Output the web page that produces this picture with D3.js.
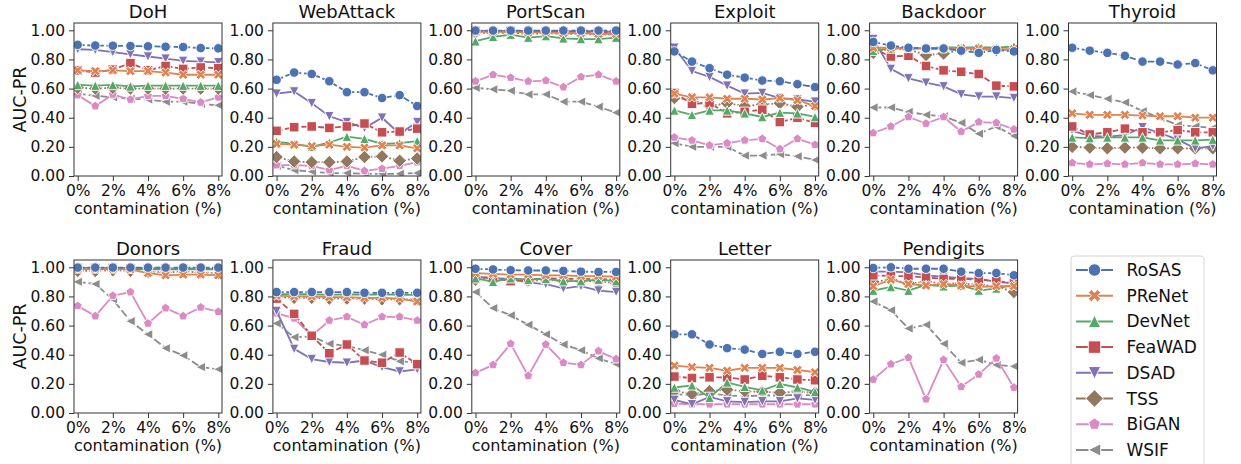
<!DOCTYPE html>
<html>
<head>
<meta charset="utf-8">
<script src="https://cdn.jsdelivr.net/npm/d3@7"></script>
<style>
  body { margin: 0; background: #fff; }
  svg { display: block; font-family: "DejaVu Sans", sans-serif; }
</style>
</head>
<body>
<svg id="chart" width="1241" height="464"></svg>
<script>
// Methods, styling order and the contamination levels on the x axis
const methods = ["RoSAS", "PReNet", "DevNet", "FeaWAD", "DSAD", "TSS", "BiGAN", "WSIF"];
const colors = ["#4C72B0", "#DD8452", "#55A868", "#C44E52", "#8172B3", "#937860", "#DA8BC3", "#8C8C8C"];
const shapes = ["circle", "x", "triUp", "square", "triDown", "diamond", "pentagon", "triLeft"];
const dashes = ["7,2.6", null, null, "6,2.4", null, "1.8,2", null, "8,3"];
const contamination = [0, 1, 2, 3, 4, 5, 6, 7, 8];
const xTicks = [0, 2, 4, 6, 8];
const yTicks = [0, 0.2, 0.4, 0.6, 0.8, 1.0];
const datasets = ["DoH", "WebAttack", "PortScan", "Exploit", "Backdoor", "Thyroid",
                  "Donors", "Fraud", "Cover", "Letter", "Pendigits"];

// AUC-PR per method (rows in `methods` order) over the contamination levels
const doh = [
  [0.90, 0.895, 0.894, 0.892, 0.89, 0.887, 0.885, 0.878, 0.876],
  [0.725, 0.72, 0.725, 0.72, 0.72, 0.71, 0.695, 0.695, 0.695],
  [0.625, 0.62, 0.625, 0.615, 0.62, 0.62, 0.62, 0.62, 0.62],
  [0.725, 0.71, 0.73, 0.775, 0.725, 0.755, 0.735, 0.745, 0.74],
  [0.87, 0.865, 0.85, 0.835, 0.82, 0.805, 0.79, 0.785, 0.78],
  [0.605, 0.60, 0.605, 0.60, 0.60, 0.60, 0.60, 0.60, 0.60],
  [0.555, 0.48, 0.56, 0.525, 0.55, 0.55, 0.53, 0.505, 0.54],
  [0.565, 0.55, 0.54, 0.53, 0.525, 0.51, 0.51, 0.495, 0.485]
];
const webAttack = [
  [0.66, 0.71, 0.70, 0.65, 0.575, 0.575, 0.535, 0.555, 0.48],
  [0.22, 0.215, 0.205, 0.215, 0.20, 0.195, 0.21, 0.21, 0.19],
  [0.235, 0.22, 0.20, 0.23, 0.27, 0.255, 0.22, 0.225, 0.24],
  [0.31, 0.335, 0.34, 0.33, 0.34, 0.36, 0.30, 0.305, 0.325],
  [0.565, 0.58, 0.50, 0.41, 0.37, 0.33, 0.40, 0.29, 0.37],
  [0.13, 0.10, 0.095, 0.095, 0.10, 0.13, 0.135, 0.105, 0.12],
  [0.075, 0.075, 0.07, 0.04, 0.07, 0.035, 0.05, 0.07, 0.095],
  [0.07, 0.04, 0.03, 0.02, 0.02, 0.015, 0.015, 0.015, 0.02]
];
const portScan = [
  [0.998, 0.998, 0.998, 0.998, 0.998, 0.998, 0.998, 0.998, 0.998],
  [0.99, 0.99, 0.99, 0.985, 0.985, 0.98, 0.98, 0.975, 0.975],
  [0.925, 0.955, 0.97, 0.95, 0.96, 0.945, 0.94, 0.94, 0.95],
  [0.995, 0.99, 0.995, 0.99, 0.99, 0.99, 0.99, 0.985, 0.99],
  [0.995, 0.995, 0.995, 0.995, 0.995, 0.99, 0.995, 0.99, 0.99],
  [0.985, 0.98, 0.985, 0.975, 0.98, 0.975, 0.975, 0.97, 0.97],
  [0.65, 0.695, 0.675, 0.65, 0.655, 0.61, 0.68, 0.695, 0.65],
  [0.605, 0.595, 0.585, 0.56, 0.56, 0.51, 0.51, 0.475, 0.435]
];
const exploit = [
  [0.855, 0.785, 0.74, 0.695, 0.675, 0.655, 0.65, 0.63, 0.61],
  [0.565, 0.54, 0.54, 0.53, 0.53, 0.525, 0.535, 0.52, 0.48],
  [0.45, 0.42, 0.45, 0.45, 0.43, 0.405, 0.435, 0.43, 0.405],
  [0.57, 0.495, 0.50, 0.43, 0.44, 0.455, 0.37, 0.40, 0.365],
  [0.88, 0.72, 0.68, 0.62, 0.565, 0.57, 0.535, 0.525, 0.51],
  [0.535, 0.525, 0.48, 0.50, 0.48, 0.49, 0.50, 0.475, 0.49],
  [0.265, 0.245, 0.21, 0.225, 0.245, 0.255, 0.185, 0.255, 0.215],
  [0.225, 0.20, 0.20, 0.20, 0.14, 0.14, 0.15, 0.135, 0.11]
];
const backdoor = [
  [0.92, 0.895, 0.88, 0.875, 0.875, 0.86, 0.845, 0.865, 0.855],
  [0.88, 0.88, 0.875, 0.875, 0.875, 0.875, 0.875, 0.87, 0.87],
  [0.86, 0.875, 0.88, 0.875, 0.885, 0.88, 0.885, 0.88, 0.89],
  [0.875, 0.82, 0.825, 0.755, 0.725, 0.715, 0.70, 0.62, 0.615],
  [0.94, 0.735, 0.67, 0.64, 0.615, 0.56, 0.545, 0.545, 0.535],
  [0.845, 0.875, 0.87, 0.83, 0.84, 0.865, 0.865, 0.865, 0.865],
  [0.295, 0.34, 0.405, 0.36, 0.405, 0.305, 0.37, 0.365, 0.32],
  [0.47, 0.47, 0.44, 0.42, 0.41, 0.365, 0.29, 0.34, 0.275]
];
const thyroid = [
  [0.88, 0.86, 0.845, 0.825, 0.785, 0.785, 0.765, 0.775, 0.725],
  [0.43, 0.42, 0.42, 0.42, 0.415, 0.41, 0.41, 0.40, 0.40],
  [0.265, 0.26, 0.265, 0.265, 0.265, 0.245, 0.245, 0.245, 0.25],
  [0.34, 0.285, 0.30, 0.325, 0.30, 0.30, 0.315, 0.30, 0.30],
  [0.31, 0.275, 0.27, 0.28, 0.335, 0.295, 0.25, 0.19, 0.205],
  [0.20, 0.195, 0.19, 0.195, 0.195, 0.19, 0.19, 0.19, 0.19],
  [0.09, 0.08, 0.085, 0.08, 0.09, 0.08, 0.08, 0.085, 0.08],
  [0.58, 0.555, 0.53, 0.505, 0.445, 0.40, 0.35, 0.34, 0.33]
];
const donors = [
  [0.998, 0.998, 0.998, 0.998, 0.998, 0.998, 0.998, 0.998, 0.998],
  [0.99, 0.99, 0.99, 0.985, 0.96, 0.945, 0.95, 0.95, 0.945],
  [0.995, 0.995, 0.995, 0.995, 0.99, 0.99, 0.99, 0.99, 0.99],
  [0.995, 0.995, 0.995, 0.99, 0.99, 0.99, 0.99, 0.99, 0.99],
  [0.99, 0.99, 0.99, 0.99, 0.985, 0.985, 0.985, 0.985, 0.985],
  [0.975, 0.975, 0.98, 0.975, 0.97, 0.965, 0.97, 0.965, 0.96],
  [0.735, 0.665, 0.805, 0.83, 0.615, 0.72, 0.665, 0.725, 0.695],
  [0.90, 0.885, 0.78, 0.63, 0.54, 0.445, 0.395, 0.315, 0.30]
];
const fraud = [
  [0.83, 0.83, 0.83, 0.83, 0.83, 0.825, 0.825, 0.825, 0.825],
  [0.805, 0.80, 0.80, 0.795, 0.795, 0.79, 0.79, 0.785, 0.765],
  [0.815, 0.815, 0.815, 0.81, 0.815, 0.81, 0.815, 0.81, 0.81],
  [0.785, 0.68, 0.53, 0.41, 0.47, 0.36, 0.345, 0.415, 0.335],
  [0.70, 0.44, 0.37, 0.35, 0.345, 0.36, 0.315, 0.285, 0.30],
  [0.795, 0.79, 0.79, 0.785, 0.785, 0.785, 0.78, 0.78, 0.78],
  [0.685, 0.65, 0.53, 0.635, 0.66, 0.605, 0.66, 0.66, 0.635],
  [0.615, 0.52, 0.525, 0.475, 0.46, 0.43, 0.40, 0.355, 0.345]
];
const cover = [
  [0.99, 0.985, 0.98, 0.978, 0.978, 0.975, 0.97, 0.968, 0.968],
  [0.96, 0.955, 0.95, 0.95, 0.945, 0.945, 0.94, 0.94, 0.935],
  [0.925, 0.90, 0.925, 0.915, 0.92, 0.905, 0.905, 0.915, 0.905],
  [0.935, 0.925, 0.905, 0.915, 0.925, 0.92, 0.92, 0.92, 0.915],
  [0.935, 0.925, 0.92, 0.895, 0.885, 0.855, 0.87, 0.84, 0.83],
  [0.915, 0.925, 0.915, 0.905, 0.915, 0.905, 0.905, 0.905, 0.89],
  [0.275, 0.33, 0.475, 0.255, 0.47, 0.345, 0.33, 0.425, 0.37],
  [0.83, 0.72, 0.67, 0.605, 0.54, 0.47, 0.43, 0.375, 0.335]
];
const letter = [
  [0.54, 0.54, 0.47, 0.445, 0.435, 0.405, 0.42, 0.405, 0.42],
  [0.325, 0.315, 0.31, 0.29, 0.31, 0.31, 0.31, 0.295, 0.28],
  [0.175, 0.19, 0.105, 0.21, 0.18, 0.155, 0.20, 0.175, 0.145],
  [0.25, 0.24, 0.245, 0.245, 0.23, 0.255, 0.245, 0.23, 0.225],
  [0.09, 0.06, 0.11, 0.08, 0.075, 0.08, 0.08, 0.10, 0.09],
  [0.15, 0.13, 0.15, 0.16, 0.15, 0.145, 0.14, 0.145, 0.14],
  [0.065, 0.06, 0.06, 0.06, 0.06, 0.06, 0.06, 0.06, 0.06],
  [0.13, 0.12, 0.135, 0.12, 0.115, 0.12, 0.12, 0.125, 0.12]
];
const pendigits = [
  [0.995, 1.0, 0.99, 0.99, 0.99, 0.97, 0.96, 0.96, 0.945],
  [0.87, 0.915, 0.885, 0.875, 0.885, 0.875, 0.865, 0.87, 0.87],
  [0.84, 0.865, 0.84, 0.88, 0.87, 0.875, 0.84, 0.855, 0.88],
  [0.945, 0.94, 0.94, 0.93, 0.92, 0.92, 0.915, 0.905, 0.89],
  [0.97, 0.97, 0.965, 0.945, 0.935, 0.925, 0.92, 0.90, 0.89],
  [0.90, 0.915, 0.89, 0.90, 0.89, 0.89, 0.88, 0.87, 0.83],
  [0.23, 0.335, 0.38, 0.095, 0.365, 0.18, 0.265, 0.375, 0.175],
  [0.765, 0.705, 0.58, 0.605, 0.475, 0.345, 0.365, 0.33, 0.32]
];
const panelValues = [doh, webAttack, portScan, exploit, backdoor, thyroid,
                     donors, fraud, cover, letter, pendigits];

// Layout
const svg = d3.select("#chart");
const W = 148, H = 153;
const colLeft = i => 74 + i * 198.9;
const rowTop = [23, 260];
const lineW = 1.8, markerSize = 9.5, ink = "#333";

const x = d3.scaleLinear().domain([-0.21, 8.21]).range([0, W]);
const y = d3.scaleLinear().domain([0, 1.05]).range([H, 0]);

// Matplotlib-like marker outlines, size = nominal marker size in px
function markerPath(shape, s) {
  const h = s / 2;
  const poly = pts => "M" + pts.map(p => p[0].toFixed(2) + "," + p[1].toFixed(2)).join("L") + "Z";
  switch (shape) {
    case "circle":
      return d3.symbol(d3.symbolCircle, Math.PI * h * h)();
    case "square":
      return poly([[-h, -h], [h, -h], [h, h], [-h, h]]);
    case "diamond": {
      const d = h * Math.SQRT2;
      return poly([[0, -d], [d, 0], [0, d], [-d, 0]]);
    }
    case "triUp":
      return poly([[0, -h], [h, h], [-h, h]]);
    case "triDown":
      return poly([[0, h], [h, -h], [-h, -h]]);
    case "triLeft":
      return poly([[-h, 0], [h, -h], [h, h]]);
    case "pentagon": {
      const pts = d3.range(5).map(k => {
        const a = -Math.PI / 2 + k * 2 * Math.PI / 5;
        return [h * Math.cos(a), h * Math.sin(a)];
      });
      return poly(pts);
    }
    case "x": {
      const base = [[-1, -2], [0, -1], [1, -2], [2, -1], [1, 0], [2, 1],
                    [1, 2], [0, 1], [-1, 2], [-2, 1], [-1, 0], [-2, -1]];
      return poly(base.map(p => [p[0] * s / 4, p[1] * s / 4]));
    }
  }
}

const line = d3.line().x((d, i) => x(contamination[i])).y(d => y(d));

datasets.forEach((name, p) => {
  const row = p < 6 ? 0 : 1, col = p % 6;
  const g = svg.append("g").attr("transform", `translate(${colLeft(col)},${rowTop[row]})`);
  const clipId = "clip" + p;
  g.append("clipPath").attr("id", clipId).append("rect").attr("width", W).attr("height", H);

  const plot = g.append("g").attr("clip-path", `url(#${clipId})`);
  const values = panelValues[p];
  // later methods first so RoSAS ends up on top
  d3.range(methods.length - 1, -1, -1).forEach(m => {
    const s = plot.append("g");
    s.append("path")
      .attr("d", line(values[m]))
      .attr("fill", "none")
      .attr("stroke", colors[m])
      .attr("stroke-width", lineW)
      .attr("stroke-dasharray", dashes[m]);
    s.selectAll("path.mk").data(values[m]).join("path")
      .attr("class", "mk")
      .attr("d", markerPath(shapes[m], markerSize))
      .attr("transform", (d, i) => `translate(${x(contamination[i])},${y(d)})`)
      .attr("fill", colors[m])
      .attr("stroke", "#fff")
      .attr("stroke-width", 0.9);
  });

  // axes
  const ya = g.append("g").call(d3.axisLeft(y).tickValues(yTicks).tickFormat(d3.format(".2f"))
    .tickSizeInner(5).tickSizeOuter(0).tickPadding(4));
  const xa = g.append("g").attr("transform", `translate(0,${H})`)
    .call(d3.axisBottom(x).tickValues(xTicks).tickFormat(d => d + "%")
      .tickSizeInner(5).tickSizeOuter(0).tickPadding(4));
  [ya, xa].forEach(a => {
    a.select(".domain").remove();
    a.selectAll("line").attr("stroke", ink).attr("stroke-width", 1);
    a.selectAll("text").attr("fill", "#111").style("font-size", "15.5px")
      .style("font-family", "'DejaVu Sans', sans-serif");
  });

  g.append("rect").attr("width", W).attr("height", H)
    .attr("fill", "none").attr("stroke", ink).attr("stroke-width", 1);

  g.append("text").attr("x", W / 2).attr("y", -5).attr("text-anchor", "middle")
    .style("font-size", "18px").attr("fill", "#111").text(name);
  g.append("text").attr("x", W / 2).attr("y", H + 38).attr("text-anchor", "middle")
    .style("font-size", "16px").attr("fill", "#111").text("contamination (%)");
  if (col === 0) {
    g.append("text")
      .attr("transform", `translate(${26 - colLeft(0)},${H / 2}) rotate(-90)`)
      .attr("text-anchor", "middle")
      .style("font-size", "17.5px").attr("fill", "#111").text("AUC-PR");
  }
});

// Legend
const lg = svg.append("g").attr("transform", "translate(1071,256)");
lg.append("rect").attr("width", 133).attr("height", 230).attr("rx", 3)
  .attr("fill", "#fff").attr("stroke", "#d6d6d6").attr("stroke-width", 1);
methods.forEach((m, i) => {
  const cy = 14 + i * 25.7;
  const e = lg.append("g").attr("transform", `translate(0,${cy})`);
  e.append("line").attr("x1", 5).attr("x2", 42).attr("stroke", colors[i]).attr("stroke-width", 2);
  e.append("path").attr("d", markerPath(shapes[i], 12.5))
    .attr("transform", "translate(23.5,0)")
    .attr("fill", colors[i]).attr("stroke", "#fff").attr("stroke-width", 1);
  e.append("text").attr("x", 55.5).attr("y", 6).style("font-size", "17px")
    .attr("fill", "#111").text(m);
});
</script>
</body>
</html>
